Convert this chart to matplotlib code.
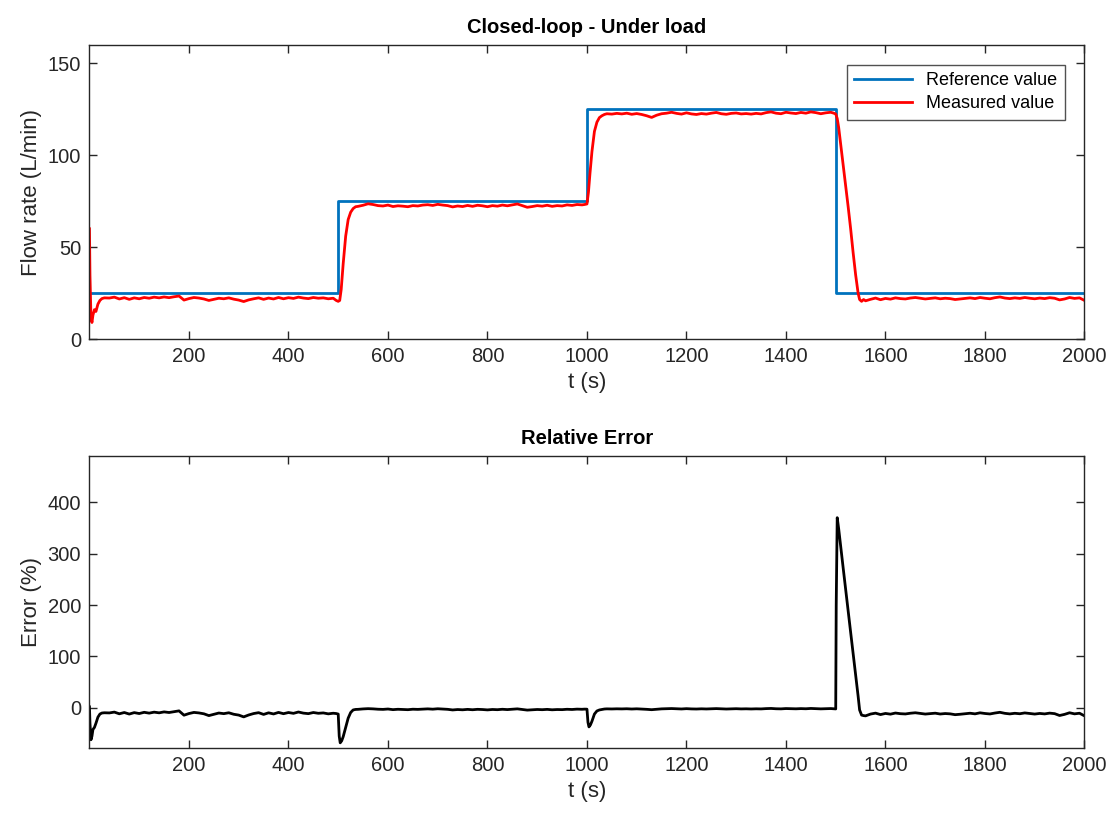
import numpy as np
import matplotlib
matplotlib.use("Agg")
import matplotlib.pyplot as plt

plt.rcParams['font.family'] = ['Liberation Sans', 'DejaVu Sans']

# reference set-point (L/min)
ref_t = [0, 500, 500, 1000, 1000, 1500, 1500, 2000]
ref_v = [25, 25, 75, 75, 125, 125, 25, 25]

# measured flow, start-up and transitions
start_t = [0, 1, 3, 5, 7, 10, 13, 17, 21, 25]
start_v = [60, 35, 12, 9, 13, 16, 15, 19, 21, 22]

seg1_t = np.arange(30, 500, 10)
seg1_v = [22.4, 22.3, 22.8, 21.8, 22.5, 21.6, 22.4, 21.9, 22.6, 22.2,
          22.8, 22.4, 22.9, 22.5, 23.0, 23.4, 21.2, 22.0, 22.6, 22.3,
          21.8, 21.0, 21.6, 22.2, 21.9, 22.4, 21.7, 21.2, 20.4, 21.3,
          21.9, 22.4, 21.6, 22.3, 21.8, 22.6, 21.9, 22.5, 22.1, 22.8,
          22.3, 22.0, 22.6, 22.2, 22.4, 21.9, 22.2]

up1_t = [496, 500, 503, 506, 510, 515, 520, 525, 530, 535]
up1_v = [21.0, 20.5, 21, 27, 41, 56, 65, 69, 71, 72]

seg2_t = np.arange(540, 1000, 10)
seg2_v = [72.2, 72.8, 73.6, 73.2, 72.6, 72.4, 72.9, 72.1, 72.5, 72.3,
          72.0, 72.6, 72.4, 72.9, 73.1, 72.7, 73.3, 72.9, 72.6, 71.9,
          72.4, 72.1, 72.7, 72.2, 72.8, 72.5, 72.0, 72.6, 72.3, 72.9,
          72.5, 73.0, 73.5, 72.6, 71.7, 72.1, 72.6, 72.3, 72.8, 72.2,
          72.6, 72.4, 73.0, 72.7, 73.2, 73.0]

up2_t = [995, 1000, 1003, 1006, 1010, 1015, 1020, 1025, 1030, 1035]
up2_v = [73.2, 73.5, 80, 90, 102, 113, 118, 120.5, 121.5, 122.2]

seg3_t = np.arange(1040, 1500, 10)
seg3_v = [122.6, 122.4, 122.8, 122.5, 122.9, 122.3, 122.7, 122.2, 121.5, 120.6,
          121.8, 122.6, 122.9, 123.4, 122.8, 122.4, 123.1, 122.5, 122.2, 122.7,
          122.4, 122.9, 123.3, 122.6, 122.3, 122.8, 123.0, 122.5, 122.7, 122.4,
          122.8, 122.5, 123.2, 123.6, 122.9, 122.6, 123.4, 123.0, 122.7, 123.3,
          122.9, 123.6, 123.2, 122.6, 123.1, 123.4]

down_t = [1495, 1500, 1503, 1506, 1510, 1515, 1520, 1525, 1530, 1535, 1540, 1545, 1548, 1552, 1556]
down_v = [123.0, 122.5, 120, 115, 106, 95, 84, 72, 60, 47, 35, 25, 21.5, 20.5, 21.5]

seg4_t = np.arange(1560, 2001, 10)
seg4_v = [20.8, 21.6, 22.3, 21.4, 22.1, 21.7, 22.4, 22.0, 21.8, 22.3,
          22.6, 22.2, 21.8, 22.1, 22.4, 21.9, 22.2, 22.0, 21.5, 21.8,
          22.1, 22.4, 22.0, 22.6, 22.2, 21.9, 22.5, 22.9, 22.3, 22.0,
          22.4, 22.1, 22.6, 22.2, 21.9, 22.3, 22.0, 22.5, 22.2, 21.3,
          21.8, 22.6, 22.1, 22.4, 21.0]

# relative error (%)
estart_t = [0, 1, 3, 5, 7, 10, 13, 17, 21, 25]
estart_v = [2, -30, -62, -55, -42, -38, -30, -18, -12, -10]

eseg1_v = [-9.5, -9.8, -8.2, -11.5, -9.0, -12.0, -9.2, -11.0, -8.6, -10.2,
           -8.3, -9.6, -7.8, -9.0, -7.5, -5.8, -14.2, -11.0, -8.8, -9.8,
           -11.5, -15.0, -12.6, -10.0, -11.2, -9.5, -12.4, -14.0, -17.5, -13.8,
           -11.0, -9.3, -12.7, -9.6, -11.8, -8.8, -11.3, -9.0, -10.6, -8.0,
           -10.2, -11.2, -9.0, -10.5, -9.8, -11.6, -10.4]

eup1_t = [496, 500, 502, 504, 507, 510, 515, 520, 525, 530, 535]
eup1_v = [-11, -12, -55, -68, -64, -56, -38, -20, -9, -4, -3]

eseg2_v = [-2.8, -2.0, -1.5, -1.9, -2.6, -2.9, -2.2, -3.4, -2.7, -3.0,
           -3.5, -2.6, -2.9, -2.3, -1.9, -2.5, -1.7, -2.3, -2.8, -4.0,
           -3.2, -3.7, -2.9, -3.6, -2.8, -3.2, -3.9, -3.1, -3.5, -2.7,
           -3.3, -2.6, -1.9, -3.1, -4.3, -3.8, -3.1, -3.5, -2.9, -3.7,
           -3.2, -3.4, -2.7, -3.1, -2.4, -2.7]

eup2_t = [995, 1000, 1002, 1004, 1007, 1010, 1015, 1020, 1025, 1030, 1035]
eup2_v = [-2.4, -2.5, -28, -37, -33, -26, -12, -6, -4, -3, -2.2]

eseg3_v = [-1.9, -2.1, -1.8, -2.0, -1.7, -2.2, -1.8, -2.2, -2.8, -3.5,
           -2.6, -1.9, -1.7, -1.3, -1.8, -2.1, -1.5, -2.0, -2.2, -1.8,
           -2.1, -1.7, -1.4, -1.9, -2.2, -1.8, -1.6, -2.0, -1.8, -2.1,
           -1.8, -2.0, -1.4, -1.1, -1.7, -1.9, -1.3, -1.6, -1.8, -1.4,
           -1.7, -1.1, -1.4, -1.9, -1.5, -1.3]

espike_t = [1495, 1500, 1501, 1503, 1506, 1510, 1515, 1520, 1525, 1530, 1535, 1540, 1545, 1548, 1552, 1556]
espike_v = [-1.6, -2.0, 200, 370, 348, 315, 272, 230, 188, 147, 106, 64, 23, -4, -14, -15]

eseg4_v = [-15.5, -12.0, -10.2, -13.0, -10.8, -12.2, -10.0, -11.3, -11.8, -10.4,
           -9.5, -10.8, -12.0, -11.2, -10.3, -11.9, -11.0, -11.6, -13.2, -12.4,
           -11.3, -10.4, -11.6, -9.6, -10.9, -11.8, -10.0, -8.6, -10.6, -11.7,
           -10.5, -11.4, -9.8, -11.0, -12.0, -10.8, -11.7, -10.2, -11.2, -14.8,
           -12.6, -9.5, -11.6, -10.4, -15.5]

meas_t = np.concatenate([start_t, seg1_t, up1_t, seg2_t, up2_t, seg3_t, down_t, seg4_t])
meas_v = np.concatenate([start_v, seg1_v, up1_v, seg2_v, up2_v, seg3_v, down_v, seg4_v])
err_t = np.concatenate([estart_t, seg1_t, eup1_t, seg2_t, eup2_t, seg3_t, espike_t, seg4_t])
err_v = np.concatenate([estart_v, eseg1_v, eup1_v, eseg2_v, eup2_v, eseg3_v, espike_v, eseg4_v])

axcol = '#262626'
fig = plt.figure(figsize=(11.1, 8.14), dpi=100)
ax1 = fig.add_axes([0.0806, 0.5835, 0.8964, 0.3612])
ax2 = fig.add_axes([0.0806, 0.0811, 0.8964, 0.3587])

ax1.plot(ref_t, ref_v, color='#0072BD', lw=2.0, label='Reference value')
ax1.plot(meas_t, meas_v, color='#FF0000', lw=2.0, label='Measured value')
ax1.set_xlim(0, 2000)
ax1.set_ylim(0, 160)
ax1.set_yticks([0, 50, 100, 150])
ax1.set_ylabel('Flow rate (L/min)', fontsize=16, color=axcol)
ax1.set_title('Closed-loop - Under load', fontsize=14.5, fontweight='bold', pad=9)
leg = ax1.legend(loc='upper right', fontsize=13, frameon=True, fancybox=False,
                 borderaxespad=1.1, handlelength=3.2, borderpad=0.4, labelspacing=0.35)
leg.get_frame().set_edgecolor('#262626')
leg.get_frame().set_linewidth(1.0)

ax2.plot(err_t, err_v, color='black', lw=2.0)
ax2.set_xlim(0, 2000)
ax2.set_ylim(-78, 490)
ax2.set_yticks([0, 100, 200, 300, 400])
ax2.set_ylabel('Error (%)', fontsize=16, color=axcol)
ax2.set_title('Relative Error', fontsize=14.5, fontweight='bold', pad=9)

for ax in (ax1, ax2):
    ax.set_xticks(range(200, 2001, 200))
    ax.set_xlabel('t (s)', fontsize=16, color=axcol)
    ax.tick_params(direction='in', length=6, width=1.0, top=True, right=True,
                   labelsize=14.5, colors=axcol, pad=6)
    for s in ax.spines.values():
        s.set_color(axcol)
        s.set_linewidth(1.0)

fig.savefig('out.png', dpi=100)
